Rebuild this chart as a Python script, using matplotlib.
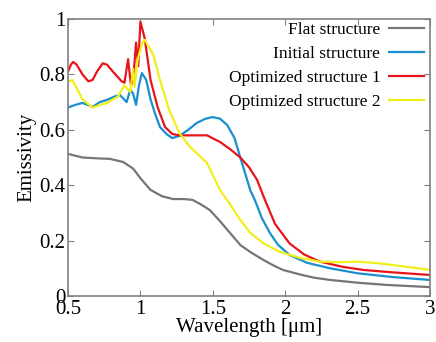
import numpy as np
from matplotlib import pyplot as plt

plt.rcParams['font.family'] = ['Liberation Serif', 'DejaVu Serif']

# Wavelength [um] and emissivity for each structure
flat_x = [0.5, 0.6, 0.7, 0.79, 0.88, 0.95, 1.0, 1.07, 1.15, 1.225, 1.3, 1.36, 1.42, 1.48, 1.55,
          1.62, 1.69, 1.77, 1.85, 1.92, 1.985, 2.1, 2.2, 2.31, 2.5, 2.7, 2.85, 3.0]
flat_y = [0.513, 0.5, 0.497, 0.495, 0.484, 0.46, 0.425, 0.383, 0.36, 0.35, 0.35, 0.347, 0.33, 0.31, 0.27,
          0.227, 0.184, 0.155, 0.13, 0.11, 0.094, 0.078, 0.066, 0.058, 0.048, 0.04, 0.036, 0.032]

init_x = [0.5, 0.55, 0.6, 0.67, 0.72, 0.77, 0.82, 0.86, 0.905, 0.93, 0.95, 0.97, 0.99, 1.01, 1.04,
          1.07, 1.1, 1.135, 1.18, 1.22, 1.27, 1.33, 1.39, 1.45, 1.5, 1.55, 1.6, 1.65, 1.69, 1.76,
          1.79, 1.84, 1.895, 1.95, 2.03, 2.15, 2.31, 2.5, 2.75, 3.0]
init_y = [0.68, 0.69, 0.697, 0.683, 0.7, 0.708, 0.72, 0.725, 0.70, 0.745, 0.73, 0.69, 0.76, 0.805, 0.78,
          0.71, 0.66, 0.61, 0.585, 0.57, 0.578, 0.6, 0.625, 0.64, 0.646, 0.64, 0.617, 0.57, 0.50, 0.38,
          0.347, 0.28, 0.227, 0.185, 0.148, 0.12, 0.10, 0.082, 0.068, 0.058]

opt1_x = [0.5, 0.52, 0.535, 0.56, 0.6, 0.64, 0.67, 0.7, 0.74, 0.77, 0.81, 0.845, 0.87, 0.89, 0.915,
          0.935, 0.95, 0.97, 0.985, 1.0, 1.03, 1.07, 1.12, 1.17, 1.22, 1.27, 1.35, 1.46, 1.55, 1.62,
          1.69, 1.75, 1.805, 1.86, 1.93, 2.03, 2.13, 2.24, 2.4, 2.54, 2.75, 3.0]
opt1_y = [0.81, 0.835, 0.845, 0.835, 0.80, 0.775, 0.78, 0.81, 0.84, 0.835, 0.81, 0.79, 0.775, 0.77, 0.855,
          0.76, 0.78, 0.915, 0.83, 0.99, 0.93, 0.78, 0.68, 0.61, 0.585, 0.58, 0.58, 0.58, 0.556, 0.53,
          0.50, 0.465, 0.42, 0.347, 0.26, 0.19, 0.15, 0.124, 0.105, 0.094, 0.085, 0.076]

opt2_x = [0.5, 0.53, 0.56, 0.6, 0.67, 0.72, 0.77, 0.845, 0.89, 0.93, 0.95, 0.96, 0.98, 1.01, 1.03,
          1.09, 1.135, 1.2, 1.27, 1.34, 1.4, 1.46, 1.55, 1.62, 1.69, 1.76, 1.85, 1.96, 2.1, 2.24,
          2.37, 2.5, 2.65, 2.8, 3.0]
opt2_y = [0.773, 0.78, 0.75, 0.71, 0.68, 0.69, 0.697, 0.72, 0.76, 0.737, 0.82, 0.755, 0.85, 0.91, 0.925,
          0.87, 0.78, 0.67, 0.588, 0.54, 0.51, 0.48, 0.383, 0.33, 0.275, 0.227, 0.19, 0.16, 0.138, 0.124,
          0.122, 0.124, 0.118, 0.108, 0.094]

fig = plt.figure(figsize=(4.36, 3.42), dpi=100)
ax = fig.add_axes([68 / 436, 46 / 342, 362 / 436, 277 / 342])

ax.plot(flat_x, flat_y, color='#767676', lw=1.6, label='Flat structure')
ax.plot(init_x, init_y, color='#1a8fd0', lw=1.6, label='Initial structure')
ax.plot(opt1_x, opt1_y, color='#e8141c', lw=1.6, label='Optimized structure 1')
ax.plot(opt2_x, opt2_y, color='#f2ee1a', lw=1.6, label='Optimized structure 2')

ax.set_xlim(0.5, 3)
ax.set_ylim(0, 1)
ax.set_xticks([0.5, 1, 1.5, 2, 2.5, 3])
ax.set_xticklabels(['0.5', '1', '1.5', '2', '2.5', '3'])
ax.set_yticks([0, 0.2, 0.4, 0.6, 0.8, 1])
ax.set_yticklabels(['0', '0.2', '0.4', '0.6', '0.8', '1'])
ax.tick_params(direction='in', top=True, right=True, labelsize=15, length=4, color='#808080', pad=2)
ax.tick_params(axis='x', pad=3)
for s in ax.spines.values():
    s.set_color('#808080')
    s.set_linewidth(1.2)

ax.set_xlabel('Wavelength [μm]', fontsize=15, labelpad=-1)
ax.set_ylabel('Emissivity', fontsize=15, labelpad=2)

ax.legend(loc='upper right', bbox_to_anchor=(0.99, 1.0), frameon=False, markerfirst=False,
          fontsize=12.5, handlelength=2.0, labelspacing=0.45, borderaxespad=0.0,
          borderpad=0.15, handletextpad=0.5)

plt.savefig('out.png', dpi=100)
